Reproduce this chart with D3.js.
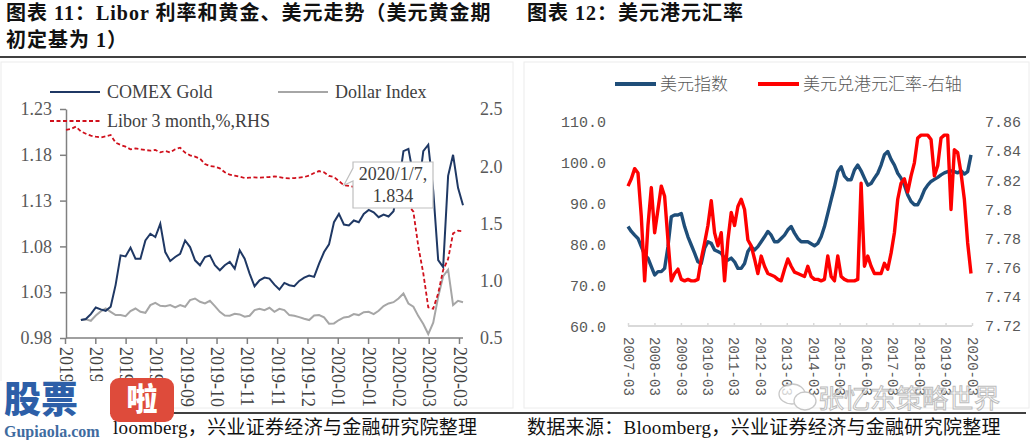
<!DOCTYPE html>
<html>
<head>
<meta charset="utf-8">
<script src="https://cdn.jsdelivr.net/npm/d3@7"></script>
<style>
body{margin:0;background:#fff;}
svg{display:block;}
</style>
</head>
<body>
<svg id="chart" width="1035" height="440"></svg>
<script>
// ---------- left chart: Libor, gold, dollar ----------
const leftTickLabels = ["2019-07","2019-07","2019-08","2019-09","2019-09","2019-10","2019-11",
    "2019-11","2019-12","2020-01","2020-01","2020-02","2020-03","2020-03"];
const leftTicksL = [0.98, 1.03, 1.08, 1.13, 1.18, 1.23];
const leftTicksR = [0.5, 1, 1.5, 2, 2.5];

const liborValues = [
    2.317, 2.325, 2.346, 2.305, 2.284, 2.267, 2.258, 2.252, 2.261, 2.273,
    2.206, 2.186, 2.171, 2.148, 2.156, 2.148, 2.142, 2.136, 2.142, 2.121,
    2.133, 2.121, 2.148, 2.162, 2.119, 2.095, 2.084, 2.066, 2.020, 2.002,
    1.996, 1.982, 1.947, 1.926, 1.918, 1.909, 1.897, 1.900, 1.903, 1.900,
    1.903, 1.906, 1.912, 1.906, 1.897, 1.894, 1.897, 1.900, 1.906, 1.918,
    1.941, 1.958, 1.947, 1.915, 1.906, 1.870, 1.834, 1.828,
    1.82, 1.81, 1.79, 1.78, 1.76, 1.74, 1.73, 1.71, 1.70, 1.69, 1.68, 1.66,
    1.603, 1.298, 1.065, 0.768, 0.756, 0.890, 1.094, 1.190, 1.414, 1.437, 1.432
];
// gold and dollar start a few points after libor
const goldStart = 3;
const goldValues = [
    0.9996, 1.0007, 1.0061, 1.0133, 1.0112, 1.0097, 1.0141, 1.0380, 1.0702, 1.0691,
    1.0786, 1.0666, 1.0666, 1.0865, 1.0938, 1.0902, 1.1046, 1.0738, 1.0641, 1.0684,
    1.0720, 1.0865, 1.0793, 1.0648, 1.0594, 1.0684, 1.0702, 1.0594, 1.0539, 1.0594,
    1.0630, 1.0557, 1.0757, 1.0666, 1.0503, 1.0365, 1.0430, 1.0459, 1.0449, 1.0383,
    1.0329, 1.0401, 1.0376, 1.0365, 1.0423, 1.0459, 1.0481, 1.0467, 1.0612, 1.0738,
    1.0822, 1.1064, 1.1155, 1.1039, 1.1028, 1.1083, 1.1064, 1.1155, 1.1199, 1.1173,
    1.1119, 1.1148, 1.1126, 1.1184, 1.146, 1.184, 1.1865, 1.157, 1.141, 1.184,
    1.191, 1.141, 1.065, 1.0575, 1.157, 1.180, 1.144, 1.125
];
const dollarValues = [
    0.9996, 1.0003, 0.9988, 1.0046, 1.0090, 1.0122, 1.0086, 1.0050, 1.0050, 1.0039,
    1.0093, 1.0122, 1.0086, 1.0075, 1.0159, 1.0184, 1.0152, 1.0148, 1.0159, 1.0133,
    1.0159, 1.0141, 1.0213, 1.0231, 1.0195, 1.0177, 1.0206, 1.0148, 1.0086, 1.0046,
    1.0043, 1.0064, 1.0057, 1.0032, 1.0043, 1.0104, 1.0119, 1.0104, 1.0130, 1.0086,
    1.0119, 1.0104, 1.0050, 1.0043, 1.0028, 1.0010, 0.9996, 1.0046, 1.0050, 1.0025,
    0.9956, 0.9959, 0.9996, 1.0025, 1.0032, 1.0061, 1.0050, 1.0082, 1.0086, 1.0061,
    1.0097, 1.0148, 1.0177, 1.0191, 1.0231, 1.0286, 1.0177, 1.0141, 1.0039, 0.9952,
    0.9843, 0.9967, 1.0249, 1.0474, 1.0546, 1.0159, 1.0206, 1.0191
];
const calloutIndex = 56;
const calloutDate = "2020/1/7,";

// ---------- right chart: dollar index and USD/HKD ----------
const rightTickLabels = ["2007-03","2008-03","2009-03","2010-03","2011-03","2012-03","2013-03",
    "2014-03","2015-03","2016-03","2017-03","2018-03","2019-03","2020-03"];
const rightTicksL = [60, 70, 80, 90, 100, 110];
const rightTicksR = [7.72, 7.74, 7.76, 7.78, 7.80, 7.82, 7.84, 7.86];

const usdIndex = [
    84.5, 83.3, 82.4, 81.6, 79.6, 77.6, 76.8, 74.7, 72.7, 73.5,
    73.5, 74.3, 79.6, 86.9, 87.3, 87.3, 87.7, 84.5, 82.0, 80.0,
    78.0, 75.9, 75.5, 79.2, 80.8, 80.4, 78.8, 78.4, 78.0, 76.8,
    76.3, 76.8, 75.9, 74.3, 74.3, 75.5, 78.4, 79.6, 78.8, 79.6,
    80.8, 82.0, 83.3, 82.4, 80.8, 80.8, 81.6, 82.4, 83.7, 84.5,
    82.9, 81.6, 80.8, 80.8, 80.8, 80.3, 79.8, 80.4, 82.0, 84.5,
    87.7, 91.0, 94.2, 97.9, 99.1, 96.8, 95.9, 95.9, 98.3, 99.5,
    98.1, 96.3, 94.6, 95.0, 96.3, 97.5, 99.5, 102.0, 102.8, 100.9,
    99.5, 97.5, 96.3, 94.6, 92.2, 90.6, 89.8, 89.8, 91.4, 93.4,
    94.6, 95.5, 96.0, 96.5, 97.1, 97.6, 97.9, 98.1, 97.9, 97.6,
    98.1, 97.3, 97.9, 102.0
];
const usdHkd = [
    7.816, 7.821, 7.828, 7.825, 7.795, 7.751, 7.789, 7.815, 7.784, 7.800,
    7.816, 7.809, 7.779, 7.751, 7.756, 7.759, 7.752, 7.751, 7.752, 7.751,
    7.751, 7.752, 7.766, 7.777, 7.789, 7.806, 7.784, 7.775, 7.784, 7.751,
    7.779, 7.798, 7.789, 7.802, 7.807, 7.800, 7.779, 7.775, 7.766, 7.756,
    7.768, 7.761, 7.756, 7.755, 7.754, 7.752, 7.751, 7.759, 7.766, 7.761,
    7.757, 7.756, 7.755, 7.754, 7.761, 7.754, 7.752, 7.752, 7.751, 7.752,
    7.768, 7.754, 7.751, 7.768, 7.754, 7.752, 7.751, 7.751, 7.751, 7.752,
    7.818, 7.761, 7.768, 7.761, 7.756, 7.756, 7.756, 7.763, 7.759, 7.770,
    7.784, 7.807, 7.818, 7.821, 7.812, 7.823, 7.832, 7.849, 7.851, 7.851,
    7.851, 7.848, 7.823, 7.830, 7.849, 7.851, 7.851, 7.800, 7.841, 7.839,
    7.825, 7.807, 7.777, 7.756
];

const svg = d3.select("#chart");
const serif = "'Liberation Serif','Times New Roman',serif";
const cjk = "'Liberation Serif','Noto Sans CJK SC',sans-serif";
const mono = "'Liberation Mono','Noto Sans CJK SC',monospace";

svg.append("rect").attr("width", 1035).attr("height", 440).attr("fill", "#fff");

// frames
svg.append("rect").attr("x", 1).attr("y", 62).attr("width", 512).attr("height", 346)
    .attr("fill", "none").attr("stroke", "#ececec");
svg.append("rect").attr("x", 524).attr("y", 62).attr("width", 505).attr("height", 346)
    .attr("fill", "none").attr("stroke", "#ececec");

// titles
function title(x, y, s) {
    svg.append("text").attr("x", x).attr("y", y)
        .style("font", "bold 20px " + cjk).style("letter-spacing", "1px")
        .attr("fill", "#111").text(s);
}
title(6, 20, "图表 11：Libor 利率和黄金、美元走势（美元黄金期");
title(6, 47, "初定基为 1）");
title(527, 20, "图表 12：美元港元汇率");
svg.append("line").attr("x1", 0).attr("x2", 1026).attr("y1", 57).attr("y2", 57)
    .attr("stroke", "#000").attr("stroke-width", 1.3);
svg.append("line").attr("x1", 0).attr("x2", 1026).attr("y1", 413).attr("y2", 413)
    .attr("stroke", "#000").attr("stroke-width", 1.3);

// ================= left chart =================
const xL = d3.scaleLinear().domain([0, liborValues.length - 1]).range([66, 463]);
const yL = d3.scaleLinear().domain([0.98, 1.23]).range([338, 109]);
const yLR = d3.scaleLinear().domain([0.5, 2.5]).range([338, 109]);
const xLTicks = d3.scalePoint().domain(d3.range(leftTickLabels.length)).range([65, 459]);

const left = svg.append("g");

const axL = left.append("g").attr("transform", "translate(66,0)")
    .call(d3.axisLeft(yL).tickValues(leftTicksL).tickFormat(d3.format(".2f"))
        .tickSize(6).tickSizeOuter(0).tickPadding(8));
axL.select(".domain").attr("stroke", "#808080").attr("stroke-width", 1.5);
axL.selectAll("line").attr("stroke", "#808080").attr("stroke-width", 1.5);
axL.selectAll("text").style("font", "18px " + serif).attr("fill", "#595959");

const axLR = left.append("g").attr("transform", "translate(480,0)")
    .call(d3.axisRight(yLR).tickValues(leftTicksR).tickSize(0).tickPadding(0));
axLR.select(".domain").remove();
axLR.selectAll("text").style("font", "18px " + serif).attr("fill", "#595959");

const axLB = left.append("g").attr("transform", "translate(0,338)")
    .call(d3.axisBottom(xLTicks).tickFormat(i => leftTickLabels[i]).tickSize(6).tickSizeOuter(0));
axLB.select(".domain").remove();
axLB.append("line").attr("x1", xL.range()[0]).attr("x2", xL.range()[1])
    .attr("stroke", "#808080").attr("stroke-width", 1.5);
axLB.selectAll(".tick line").attr("stroke", "#808080").attr("stroke-width", 1.5);
axLB.selectAll("text")
    .style("font", "18px " + serif).attr("fill", "#404040")
    .attr("text-anchor", "start")
    .attr("transform", "rotate(90)")
    .attr("x", 9).attr("y", 0).attr("dy", "0.33em");

const goldLine = d3.line().x((d, i) => xL(i + goldStart)).y(d => yL(d));
left.append("path").datum(dollarValues).attr("d", goldLine)
    .attr("fill", "none").attr("stroke", "#a6a6a6").attr("stroke-width", 2);
left.append("path").datum(goldValues).attr("d", goldLine)
    .attr("fill", "none").attr("stroke", "#1f3864").attr("stroke-width", 2);
left.append("path").datum(liborValues)
    .attr("d", d3.line().x((d, i) => xL(i)).y(d => yLR(d)))
    .attr("fill", "none").attr("stroke", "#d0101c").attr("stroke-width", 1.8)
    .attr("stroke-dasharray", "4,2.5");

// callout
const cx = xL(calloutIndex), cy = yLR(liborValues[calloutIndex]);
const callout = left.append("g");
callout.append("path")
    .attr("d", `M353,162 H433 V208 H353 V181 L${cx},${cy} L353,168 Z`)
    .attr("fill", "#fff").attr("stroke", "#bfbfbf").attr("stroke-width", 1.2);
callout.append("text").attr("x", 393).attr("y", 180).attr("text-anchor", "middle")
    .style("font", "18px " + serif).attr("fill", "#404040").text(calloutDate);
callout.append("text").attr("x", 393).attr("y", 202).attr("text-anchor", "middle")
    .style("font", "18px " + serif).attr("fill", "#404040")
    .text(d3.format(".3f")(liborValues[calloutIndex]));

// legend left
const legL = [
    {x: 50, y: 92, color: "#1f3864", dash: null, label: "COMEX Gold"},
    {x: 278, y: 92, color: "#a6a6a6", dash: null, label: "Dollar Index"},
    {x: 50, y: 121, color: "#d0101c", dash: "4,2.5", label: "Libor 3 month,%,RHS"}
];
legL.forEach(d => {
    left.append("line").attr("x1", d.x).attr("x2", d.x + 50).attr("y1", d.y).attr("y2", d.y)
        .attr("stroke", d.color).attr("stroke-width", 2).attr("stroke-dasharray", d.dash);
    left.append("text").attr("x", d.x + 57).attr("y", d.y + 6)
        .style("font", "18px " + serif).attr("fill", "#404040").text(d.label);
});

// ================= right chart =================
const xR = d3.scaleLinear().domain([0, usdIndex.length - 1]).range([628, 971]);
const yRL = d3.scaleLinear().domain([60, 110]).range([327, 122]);
const yRR = d3.scaleLinear().domain([7.72, 7.86]).range([326, 122]);
const xRTicks = d3.scalePoint().domain(d3.range(rightTickLabels.length)).range([628, 972]);

const right = svg.append("g");

const axRL = right.append("g").attr("transform", "translate(612,0)")
    .call(d3.axisLeft(yRL).tickValues(rightTicksL).tickFormat(d3.format(".1f")).tickSize(0).tickPadding(6));
axRL.select(".domain").remove();
axRL.selectAll("text").style("font", "15px " + mono).attr("fill", "#595959");

const axRR = right.append("g").attr("transform", "translate(979,0)")
    .call(d3.axisRight(yRR).tickValues(rightTicksR).tickFormat(d => String(+d.toFixed(2)))
        .tickSize(0).tickPadding(6));
axRR.select(".domain").remove();
axRR.selectAll("text").style("font", "15px " + mono).attr("fill", "#595959");

const axRB = right.append("g").attr("transform", "translate(0,326)")
    .call(d3.axisBottom(xRTicks).tickFormat(i => rightTickLabels[i]).tickSize(-3).tickSizeOuter(0));
axRB.select(".domain").remove();
axRB.append("line").attr("x1", 628).attr("x2", 972).attr("stroke", "#d9d9d9").attr("stroke-width", 2);
axRB.selectAll(".tick line").attr("stroke", "#d9d9d9").attr("stroke-width", 1.5);
axRB.selectAll("text")
    .style("font", "14px " + mono).attr("fill", "#595959")
    .attr("text-anchor", "start")
    .attr("transform", "rotate(90)")
    .attr("x", 11).attr("y", 0).attr("dy", "0.35em");

right.append("path").datum(usdIndex)
    .attr("d", d3.line().x((d, i) => xR(i)).y(d => yRL(d)))
    .attr("fill", "none").attr("stroke", "#1f4e79").attr("stroke-width", 3.4)
    .attr("stroke-linejoin", "round");
right.append("path").datum(usdHkd)
    .attr("d", d3.line().x((d, i) => xR(i)).y(d => yRR(d)))
    .attr("fill", "none").attr("stroke", "#ff0000").attr("stroke-width", 3.4)
    .attr("stroke-linejoin", "round");

const legR = [
    {x: 615, color: "#1f4e79", label: "美元指数"},
    {x: 758, color: "#ff0000", label: "美元兑港元汇率-右轴"}
];
legR.forEach(d => {
    right.append("line").attr("x1", d.x).attr("x2", d.x + 41).attr("y1", 84).attr("y2", 84)
        .attr("stroke", d.color).attr("stroke-width", 4);
    right.append("text").attr("x", d.x + 45).attr("y", 90)
        .style("font", "300 17px 'Noto Sans CJK SC',sans-serif").attr("fill", "#595959").text(d.label);
});

// ================= sources =================
// left source line is partly covered by the logo: only the visible part is drawn
const srcText = "数据来源：Bloomberg，兴业证券经济与金融研究院整理";
const srcVisible = "loomberg，兴业证券经济与金融研究院整理";
svg.append("text").attr("x", 113).attr("y", 434).style("font", "19px " + cjk)
    .style("letter-spacing", "0.3px").attr("fill", "#111").text(srcVisible);
svg.append("text").attr("x", 527).attr("y", 434).style("font", "19px " + cjk)
    .style("letter-spacing", "0.3px").attr("fill", "#111").text(srcText);

// watermark (right)
const wm = svg.append("g").attr("opacity", 0.75);
wm.append("ellipse").attr("cx", 792).attr("cy", 394).attr("rx", 13).attr("ry", 10)
    .attr("fill", "#fff").attr("stroke", "#b5b5b5").attr("stroke-width", 1.3);
wm.append("ellipse").attr("cx", 805).attr("cy", 401).attr("rx", 11).attr("ry", 9)
    .attr("fill", "#fff").attr("stroke", "#b5b5b5").attr("stroke-width", 1.3);
wm.append("text").attr("x", 818).attr("y", 408)
    .style("font", "26px 'Noto Sans CJK SC',sans-serif")
    .attr("fill", "#fff").attr("stroke", "#a8a8a8").attr("stroke-width", 1)
    .text("张忆东策略世界");

// logo (left), drawn over the first axis labels
const logo = svg.append("g");
logo.append("rect").attr("x", 0).attr("y", 381).attr("width", 110).attr("height", 38).attr("fill", "#fff");
logo.append("text").attr("x", 4).attr("y", 413)
    .style("font", "900 37px 'Noto Sans CJK SC',sans-serif").attr("fill", "#2d5fa8").text("股票");
logo.append("rect").attr("x", 110).attr("y", 378).attr("width", 64).attr("height", 44).attr("rx", 9)
    .attr("fill", "#de4b3b");
logo.append("text").attr("x", 142).attr("y", 410).attr("text-anchor", "middle")
    .style("font", "900 31px 'Noto Sans CJK SC',sans-serif").attr("fill", "#fff").text("啦");
logo.append("text").attr("x", 4).attr("y", 437)
    .style("font", "bold 16px " + serif).attr("fill", "#3f6c9f").text("Gupiaola.com");
</script>
</body>
</html>
